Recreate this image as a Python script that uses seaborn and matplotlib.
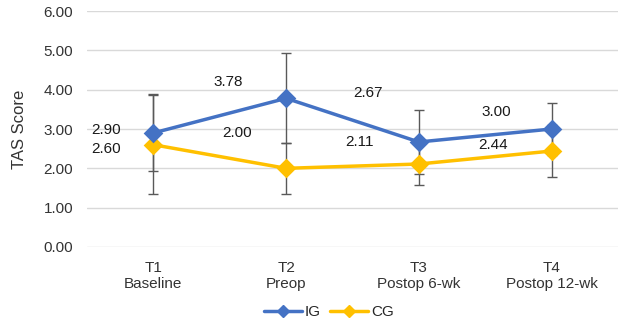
import numpy as np
import pandas as pd
import matplotlib
matplotlib.use("Agg")
import matplotlib.pyplot as plt
from matplotlib.lines import Line2D
import seaborn as sns

# chart data
time_points = ["T1\nBaseline", "T2\nPreop", "T3\nPostop 6-wk", "T4\nPostop 12-wk"]
groups = ["IG", "CG"]
ig_mean = [2.90, 3.78, 2.67, 3.00]
cg_mean = [2.60, 2.00, 2.11, 2.44]
ig_sd = [0.98, 1.14, 0.82, 0.67]
cg_sd = [1.26, 0.64, 0.53, 0.66]

# label offsets in pixels (dx, dy) relative to each point
ig_label_offsets = [(-47, 3), (-58, 16), (-51, 49), (-55, 17)]
cg_label_offsets = [(-47, -4), (-49, 35), (-59, 22), (-59, 6)]

colors = {"IG": "#4472C4", "CG": "#FFC000"}

df = pd.DataFrame({
    "time": time_points * 2,
    "group": ["IG"] * 4 + ["CG"] * 4,
    "score": ig_mean + cg_mean,
})

sns.set_theme(style="white")
plt.rcParams["font.family"] = ["Liberation Sans", "DejaVu Sans"]

fig = plt.figure(figsize=(6.21, 3.24), dpi=100)
ax = fig.add_axes([87 / 621, 1 - 247 / 324, 531 / 621, 236 / 324])

# error bars (SD) behind the lines
x_pos = np.arange(len(time_points))
for means, sds in [(ig_mean, ig_sd), (cg_mean, cg_sd)]:
    ax.errorbar(x_pos, means, yerr=sds, fmt="none", ecolor="#595959",
                elinewidth=1.0, capsize=3.5, capthick=1.0, zorder=2)

sns.pointplot(data=df, x="time", y="score", hue="group", order=time_points,
              hue_order=["CG", "IG"], palette=colors, markers="D",
              linestyles="-", errorbar=None, ax=ax, legend=False,
              markersize=8, linewidth=2.5)
for coll in ax.lines:
    coll.set_zorder(3)

# value labels
for means, offs in [(ig_mean, ig_label_offsets), (cg_mean, cg_label_offsets)]:
    for i, (v, (dx, dy)) in enumerate(zip(means, offs)):
        ax.annotate(f"{v:.2f}", (i, v), xytext=(dx, dy), textcoords="offset pixels",
                    ha="center", va="center", fontsize=11, color="#1a1a1a")

ax.set_ylim(0, 6)
ax.set_xlim(-0.5, 3.5)
ax.set_yticks(np.arange(0, 6.01, 1))
ax.set_yticklabels([f"{t:.2f}" for t in np.arange(0, 6.01, 1)])
ax.yaxis.grid(True, color="#d9d9d9", linewidth=1.0)
ax.set_axisbelow(True)
for s in ax.spines.values():
    s.set_visible(False)
ax.tick_params(axis="both", length=0, labelsize=11, colors="#333333")
ax.tick_params(axis="y", pad=10)
ax.tick_params(axis="x", pad=10)
for t in ax.get_xticklabels():
    t.set_linespacing(1.15)
ax.set_xlabel("")
ax.set_ylabel("TAS Score", fontsize=12, color="#333333")
ax.yaxis.set_label_coords(-(87 - 27) / 531, 0.5)

handles = [Line2D([0], [0], color=colors[g], lw=2.5, marker="D", markersize=6) for g in groups]
fig.legend(handles, groups, loc="center", bbox_to_anchor=(329 / 621, 1 - 312 / 324),
           ncol=2, frameon=False, fontsize=11, handlelength=2.5, columnspacing=0.6,
           handletextpad=0.2)

fig.savefig("out.png", dpi=100)
